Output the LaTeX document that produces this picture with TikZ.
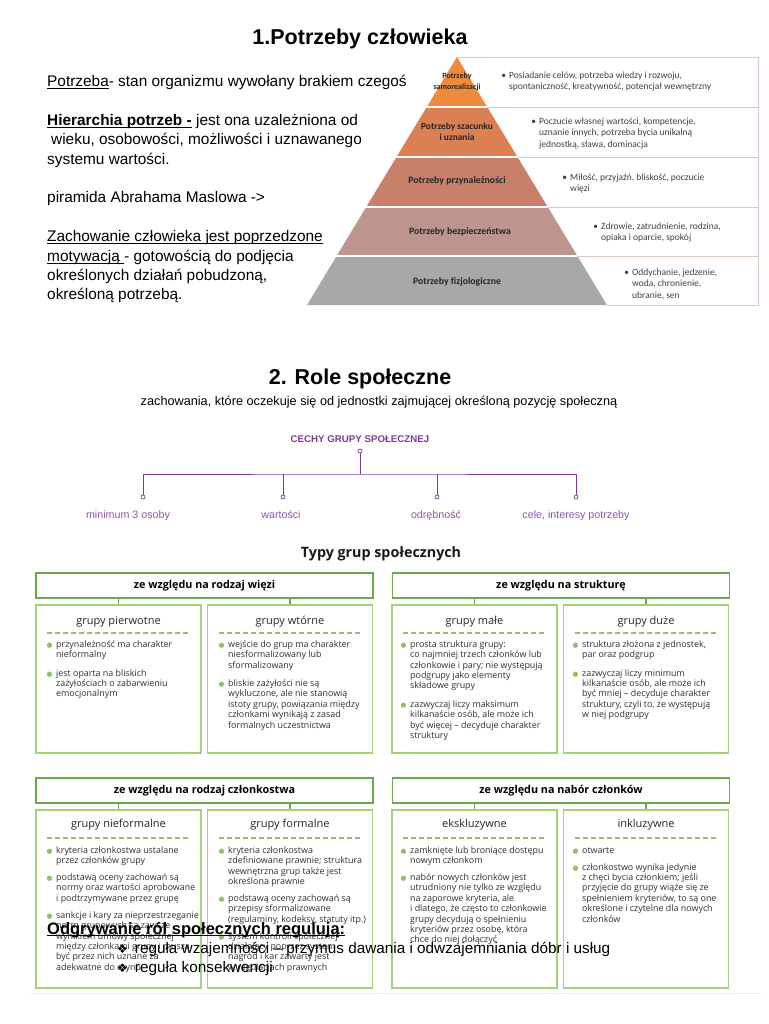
\documentclass[tikz,border=0pt]{standalone}
\usepackage{fontspec}
\usepackage{graphicx}
\setmainfont{Liberation Sans}
\newfontfamily\calfont{Carlito}
\newfontfamily\osfont{Open Sans}
\newfontfamily\dejafont{DejaVu Sans}
\newcommand\setfs[2]{\fontsize{#1}{#2}\selectfont}
\newcommand\myul[1]{\setbox0\hbox{#1}\rlap{\rule[-2.3pt]{\wd0}{0.9pt}}\box0\relax}
\newcommand\fla{\rule{0pt}{7pt}}
\newcommand\flb{\rule{0pt}{8pt}}
\newcommand\flc{\rule{0pt}{11pt}}
\definecolor{py1}{HTML}{EE8A3E}
\definecolor{py2}{HTML}{DC7F52}
\definecolor{py3}{HTML}{C8806B}
\definecolor{py4}{HTML}{BB958E}
\definecolor{py5}{HTML}{A8A8A8}
\definecolor{tbl}{HTML}{DCC8BC}
\definecolor{pur}{HTML}{7E3A96}
\definecolor{purl}{HTML}{8F55A6}
\definecolor{hdrc}{HTML}{6CA84C}
\definecolor{boxc}{HTML}{A4D27A}
\definecolor{gdot}{HTML}{8DC267}
\definecolor{txtc}{HTML}{303030}
\definecolor{ptxt}{HTML}{404040}
\newcommand\gb{\llap{\textcolor{gdot}{\dejafont\setfs{6.8}{6}●}\hspace{3.6pt}}}
\begin{document}
\begin{tikzpicture}[x=1pt,y=-1pt,
  hdr/.style={draw=hdrc, line width=1.5pt, minimum width=337pt, minimum height=25pt, inner sep=0pt, font=\osfont\bfseries\setfs{10.8}{12}, text=black},
  cbox/.style={draw=boxc, line width=1.5pt, minimum width=165pt, inner sep=0pt},
  stub/.style={draw=hdrc, line width=1.5pt},
  ctitle/.style={anchor=base, inner sep=0pt, font=\osfont\setfs{11}{13}, text=black!85},
  btxt/.style={anchor=north west, inner sep=0pt, align=left, font=\osfont\setfs{8.9}{10.4}, text=txtc},
  dashg/.style={draw=gdot, line width=1.3pt, dash pattern=on 4.5pt off 3.5pt},
  plab/.style={inner sep=0pt, align=center, font=\calfont\bfseries\setfs{9.8}{11}, text=black!85},
  ptab/.style={anchor=north west, inner sep=0pt, align=left, font=\calfont\setfs{9.5}{11.6}, text=ptxt},
  tline/.style={draw=tbl, line width=0.8pt},
  pline/.style={draw=pur, line width=0.9pt},
  pcirc/.style={circle, draw=pur, fill=white, line width=0.7pt, minimum size=4pt, inner sep=0pt},
  plabel/.style={anchor=base, inner sep=0pt, font=\setfs{10.7}{12}, text=purl}]
\useasboundingbox (0,0) rectangle (768,1024);
\fill[white] (0,0) rectangle (768,1024);

% ---------- section 1 ----------
\node[anchor=base, inner sep=0pt, font=\bfseries\setfs{21.5}{24}] (t1) at (360,45) {1.Potrzeby człowieka};
\node[anchor=north west, inner sep=0pt, align=left, font=\setfs{15.4}{19.4}] (lt) at (47,75)
 {\flc\myul{Potrzeba}- stan organizmu wywołany brakiem czegoś\\[19.4pt]
  \myul{\bfseries Hierarchia potrzeb -} jest ona uzależniona od\\
  \hspace{4pt}wieku, osobowości, możliwości i uznawanego\\
  systemu wartości.\\[19.4pt]
  piramida Abrahama Maslowa ->\\[19.4pt]
  \myul{Zachowanie człowieka jest poprzedzone}\\
  \myul{motywacją }- gotowością do podjęcia\\
  określonych działań pobudzoną,\\
  określoną potrzebą.};

% pyramid
\fill[py1] (457,57) -- (487.25,107) -- (426.75,107) -- cycle;
\fill[py2] (426.75,107) -- (487.25,107) -- (517.5,157) -- (396.5,157) -- cycle;
\fill[py3] (396.5,157) -- (517.5,157) -- (547.75,207) -- (366.25,207) -- cycle;
\fill[py4] (366.25,207) -- (547.75,207) -- (577.4,256) -- (336.6,256) -- cycle;
\fill[py5] (336.6,256) -- (577.4,256) -- (607,305) -- (307,305) -- cycle;
\foreach \yy/\xa/\xb in {107/424/490, 157/394/520, 207/364/550, 256/334/580}
  \draw[white, line width=1.8pt] (\xa,\yy) -- (\xb,\yy);
\draw[tline] (457,57) -- (758,57) -- (758,305) -- (607,305);
\draw[tline] (487.25,107) -- (758,107);
\draw[tline] (517.5,157) -- (758,157);
\draw[tline] (547.75,207) -- (758,207);
\draw[tline] (577.4,256) -- (758,256);

\node[plab, anchor=north, font=\calfont\bfseries\setfs{8}{11}] (p1) at (457,71) {\fla Potrzeby\\samorealizacji};
\node[plab, anchor=north, font=\calfont\bfseries\setfs{9.4}{11}] (p2) at (457,122) {\fla Potrzeby szacunku\\i uznania};
\node[plab, anchor=base] (p3) at (457,184) {Potrzeby przynależności};
\node[plab, anchor=base] (p4) at (460,235) {Potrzeby bezpieczeństwa};
\node[plab, anchor=base] (p5) at (457,284) {Potrzeby fizjologiczne};

\node[ptab] (r1) at (509,70) {\flb\llap{•\hspace{3pt}}Posiadanie celów, potrzeba wiedzy i rozwoju,\\spontaniczność, kreatywność, potencjał wewnętrzny};
\node[ptab] (r2) at (539,116) {\flb\llap{•\hspace{3pt}}Poczucie własnej wartości, kompetencje,\\uznanie innych, potrzeba bycia unikalną\\jednostką, sława, dominacja};
\node[ptab] (r3) at (570,172) {\flb\llap{•\hspace{3pt}}Miłość, przyjaźń, bliskość, poczucie\\więzi};
\node[ptab] (r4) at (601,221) {\flb\llap{•\hspace{3pt}}Zdrowie, zatrudnienie, rodzina,\\opiaka i oparcie, spokój};
\node[ptab] (r5) at (632,267) {\flb\llap{•\hspace{3pt}}Oddychanie, jedzenie,\\woda, chronienie,\\ubranie, sen};

% ---------- section 2 ----------
\node[anchor=base, inner sep=0pt, font=\bfseries\setfs{21.5}{24}] (t2) at (360,384) {2. Role społeczne};
\node[anchor=base, inner sep=0pt, font=\setfs{12.7}{14}] (st) at (379,405) {zachowania, które oczekuje się od jednostki zajmującej określoną pozycję społeczną};

\node[anchor=base, inner sep=0pt, font=\bfseries\setfs{9.7}{11}, text=pur] (cg) at (360,442) {CECHY GRUPY SPOŁECZNEJ};
\node[pcirc] (c0) at (360,451) {};
\coordinate (hj) at (360,474);
\node[pcirc] (d1) at (143,497) {};
\node[pcirc] (d2) at (283,497) {};
\node[pcirc] (d3) at (437,497) {};
\node[pcirc] (d4) at (576,497) {};
\draw[pline] (c0.south) -- (hj);
\draw[pline] (d1.north) |- (hj) -| (d4.north);
\draw[pline] (d2.north) -- (d2.north |- hj);
\draw[pline] (d3.north) -- (d3.north |- hj);
\node[plabel] (l1) at (128,518) {minimum 3 osoby};
\node[plabel] (l2) at (281,518) {wartości};
\node[plabel] (l3) at (436,518) {odrębność};
\node[plabel] (l4) at (576,518) {cele, interesy potrzeby};

% ---------- typy grup ----------
\node[anchor=base, inner sep=0pt, font=\osfont\bfseries\setfs{14.3}{16}, text=black!90] (t3) at (381,557) {Typy grup społecznych};

\node[hdr] (h1) at (204.5,585.5) {ze względu na rodzaj więzi};
\node[hdr] (h2) at (561,585.5) {ze względu na strukturę};
\node[cbox, minimum height=148pt] (bA) at (118.5,679) {};
\node[cbox, minimum height=148pt] (bB) at (290,679) {};
\node[cbox, minimum height=148pt] (bC) at (474.5,679) {};
\node[cbox, minimum height=148pt] (bD) at (646,679) {};
\draw[stub] (bA.north) -- (bA.north |- h1.south);
\draw[stub] (bB.north) -- (bB.north |- h1.south);
\draw[stub] (bC.north) -- (bC.north |- h2.south);
\draw[stub] (bD.north) -- (bD.north |- h2.south);

\node[ctitle] (tA) at (118.5,624) {grupy pierwotne};
\node[ctitle] (tB) at (290,624) {grupy wtórne};
\node[ctitle] (tC) at (474.5,624) {grupy małe};
\node[ctitle] (tD) at (646,624) {grupy duże};
\draw[dashg] (47,633) -- (190,633);
\draw[dashg] (219,633) -- (362,633);
\draw[dashg] (403,633) -- (546,633);
\draw[dashg] (575,633) -- (718,633);

\node[btxt] (xA) at (56,640) {\fla\gb przynależność ma charakter\\nieformalny\\[8pt]
 \gb jest oparta na bliskich\\zażyłościach o zabarwieniu\\emocjonalnym};
\node[btxt] (xB) at (228,640) {\fla\gb wejście do grup ma charakter\\niesformalizowany lub\\sformalizowany\\[8pt]
 \gb bliskie zażyłości nie są\\wykluczone, ale nie stanowią\\istoty grupy, powiązania między\\członkami wynikają z zasad\\formalnych uczestnictwa};
\node[btxt] (xC) at (410,640) {\fla\gb prosta struktura grupy:\\co najmniej trzech członków lub\\członkowie i pary; nie występują\\podgrupy jako elementy\\składowe grupy\\[8pt]
 \gb zazwyczaj liczy maksimum\\kilkanaście osób, ale może ich\\być więcej – decyduje charakter\\struktury};
\node[btxt] (xD) at (582,640) {\fla\gb struktura złożona z jednostek,\\par oraz podgrup\\[8pt]
 \gb zazwyczaj liczy minimum\\kilkanaście osób, ale może ich\\być mniej – decyduje charakter\\struktury, czyli to, że występują\\w niej podgrupy};

\node[hdr] (h3) at (204.5,790.5) {ze względu na rodzaj członkostwa};
\node[hdr] (h4) at (561,790.5) {ze względu na nabór członków};
\node[cbox, minimum height=178pt] (bE) at (118.5,899) {};
\node[cbox, minimum height=178pt] (bF) at (290,899) {};
\node[cbox, minimum height=178pt] (bG) at (474.5,899) {};
\node[cbox, minimum height=178pt] (bH) at (646,899) {};
\draw[stub] (bE.north) -- (bE.north |- h3.south);
\draw[stub] (bF.north) -- (bF.north |- h3.south);
\draw[stub] (bG.north) -- (bG.north |- h4.south);
\draw[stub] (bH.north) -- (bH.north |- h4.south);

\node[ctitle] (tE) at (118.5,827) {grupy nieformalne};
\node[ctitle] (tF) at (290,827) {grupy formalne};
\node[ctitle] (tG) at (474.5,827) {ekskluzywne};
\node[ctitle] (tH) at (646,827) {inkluzywne};
\draw[dashg] (47,838) -- (190,838);
\draw[dashg] (219,838) -- (362,838);
\draw[dashg] (403,838) -- (546,838);
\draw[dashg] (575,838) -- (718,838);

\node[btxt] (xE) at (56,846) {\fla\gb kryteria członkostwa ustalane\\przez członków grupy\\[6.5pt]
 \gb podstawą oceny zachowań są\\normy oraz wartości aprobowane\\i podtrzymywane przez grupę\\[6.5pt]
 \gb sankcje i kary za nieprzestrzeganie\\norm grupowych są zawsze\\wynikiem umowy społecznej\\między członkami grupy i muszą\\być przez nich uznane za\\adekwatne do czynu};
\node[btxt] (xF) at (228,846) {\fla\gb kryteria członkostwa\\zdefiniowane prawnie; struktura\\wewnętrzna grup także jest\\określona prawnie\\[6.5pt]
 \gb podstawą oceny zachowań są\\przepisy sformalizowane\\(regulaminy, kodeksy, statuty itp.)\\[6.5pt]
 \gb system kontroli społecznej\\działający poprzez system\\nagród i kar zawarty jest\\w regulacjach prawnych};
\node[btxt] (xG) at (410,846) {\fla\gb zamknięte lub broniące dostępu\\nowym członkom\\[6.5pt]
 \gb nabór nowych członków jest\\utrudniony nie tylko ze względu\\na zaporowe kryteria, ale\\i dlatego, że często to członkowie\\grupy decydują o spełnieniu\\kryteriów przez osobę, która\\chce do niej dołączyć};
\node[btxt] (xH) at (582,846) {\fla\gb otwarte\\[6.5pt]
 \gb członkostwo wynika jedynie\\z chęci bycia członkiem; jeśli\\przyjęcie do grupy wiąże się ze\\spełnieniem kryteriów, to są one\\określone i czytelne dla nowych\\członków};

\draw[black!7, line width=0.8pt] (30,993) -- (762,993);

% ---------- overlay text ----------
\node[anchor=base west, inner sep=0pt, font=\bfseries\setfs{16.5}{18}] (o1) at (47,934) {\myul{Odgrywanie ról społecznych regulują:}};
\node[anchor=base west, inner sep=0pt, font=\setfs{15.3}{18}] (o2) at (117,953) {{\dejafont\setfs{12}{12}❖}\hspace{7pt}reguła wzajemności – przymus dawania i odwzajemniania dóbr i usług};
\node[anchor=base west, inner sep=0pt, font=\setfs{15.3}{18}] (o3) at (117,972) {{\dejafont\setfs{12}{12}❖}\hspace{7pt}reguła konsekwencji};
\end{tikzpicture}
\end{document}
